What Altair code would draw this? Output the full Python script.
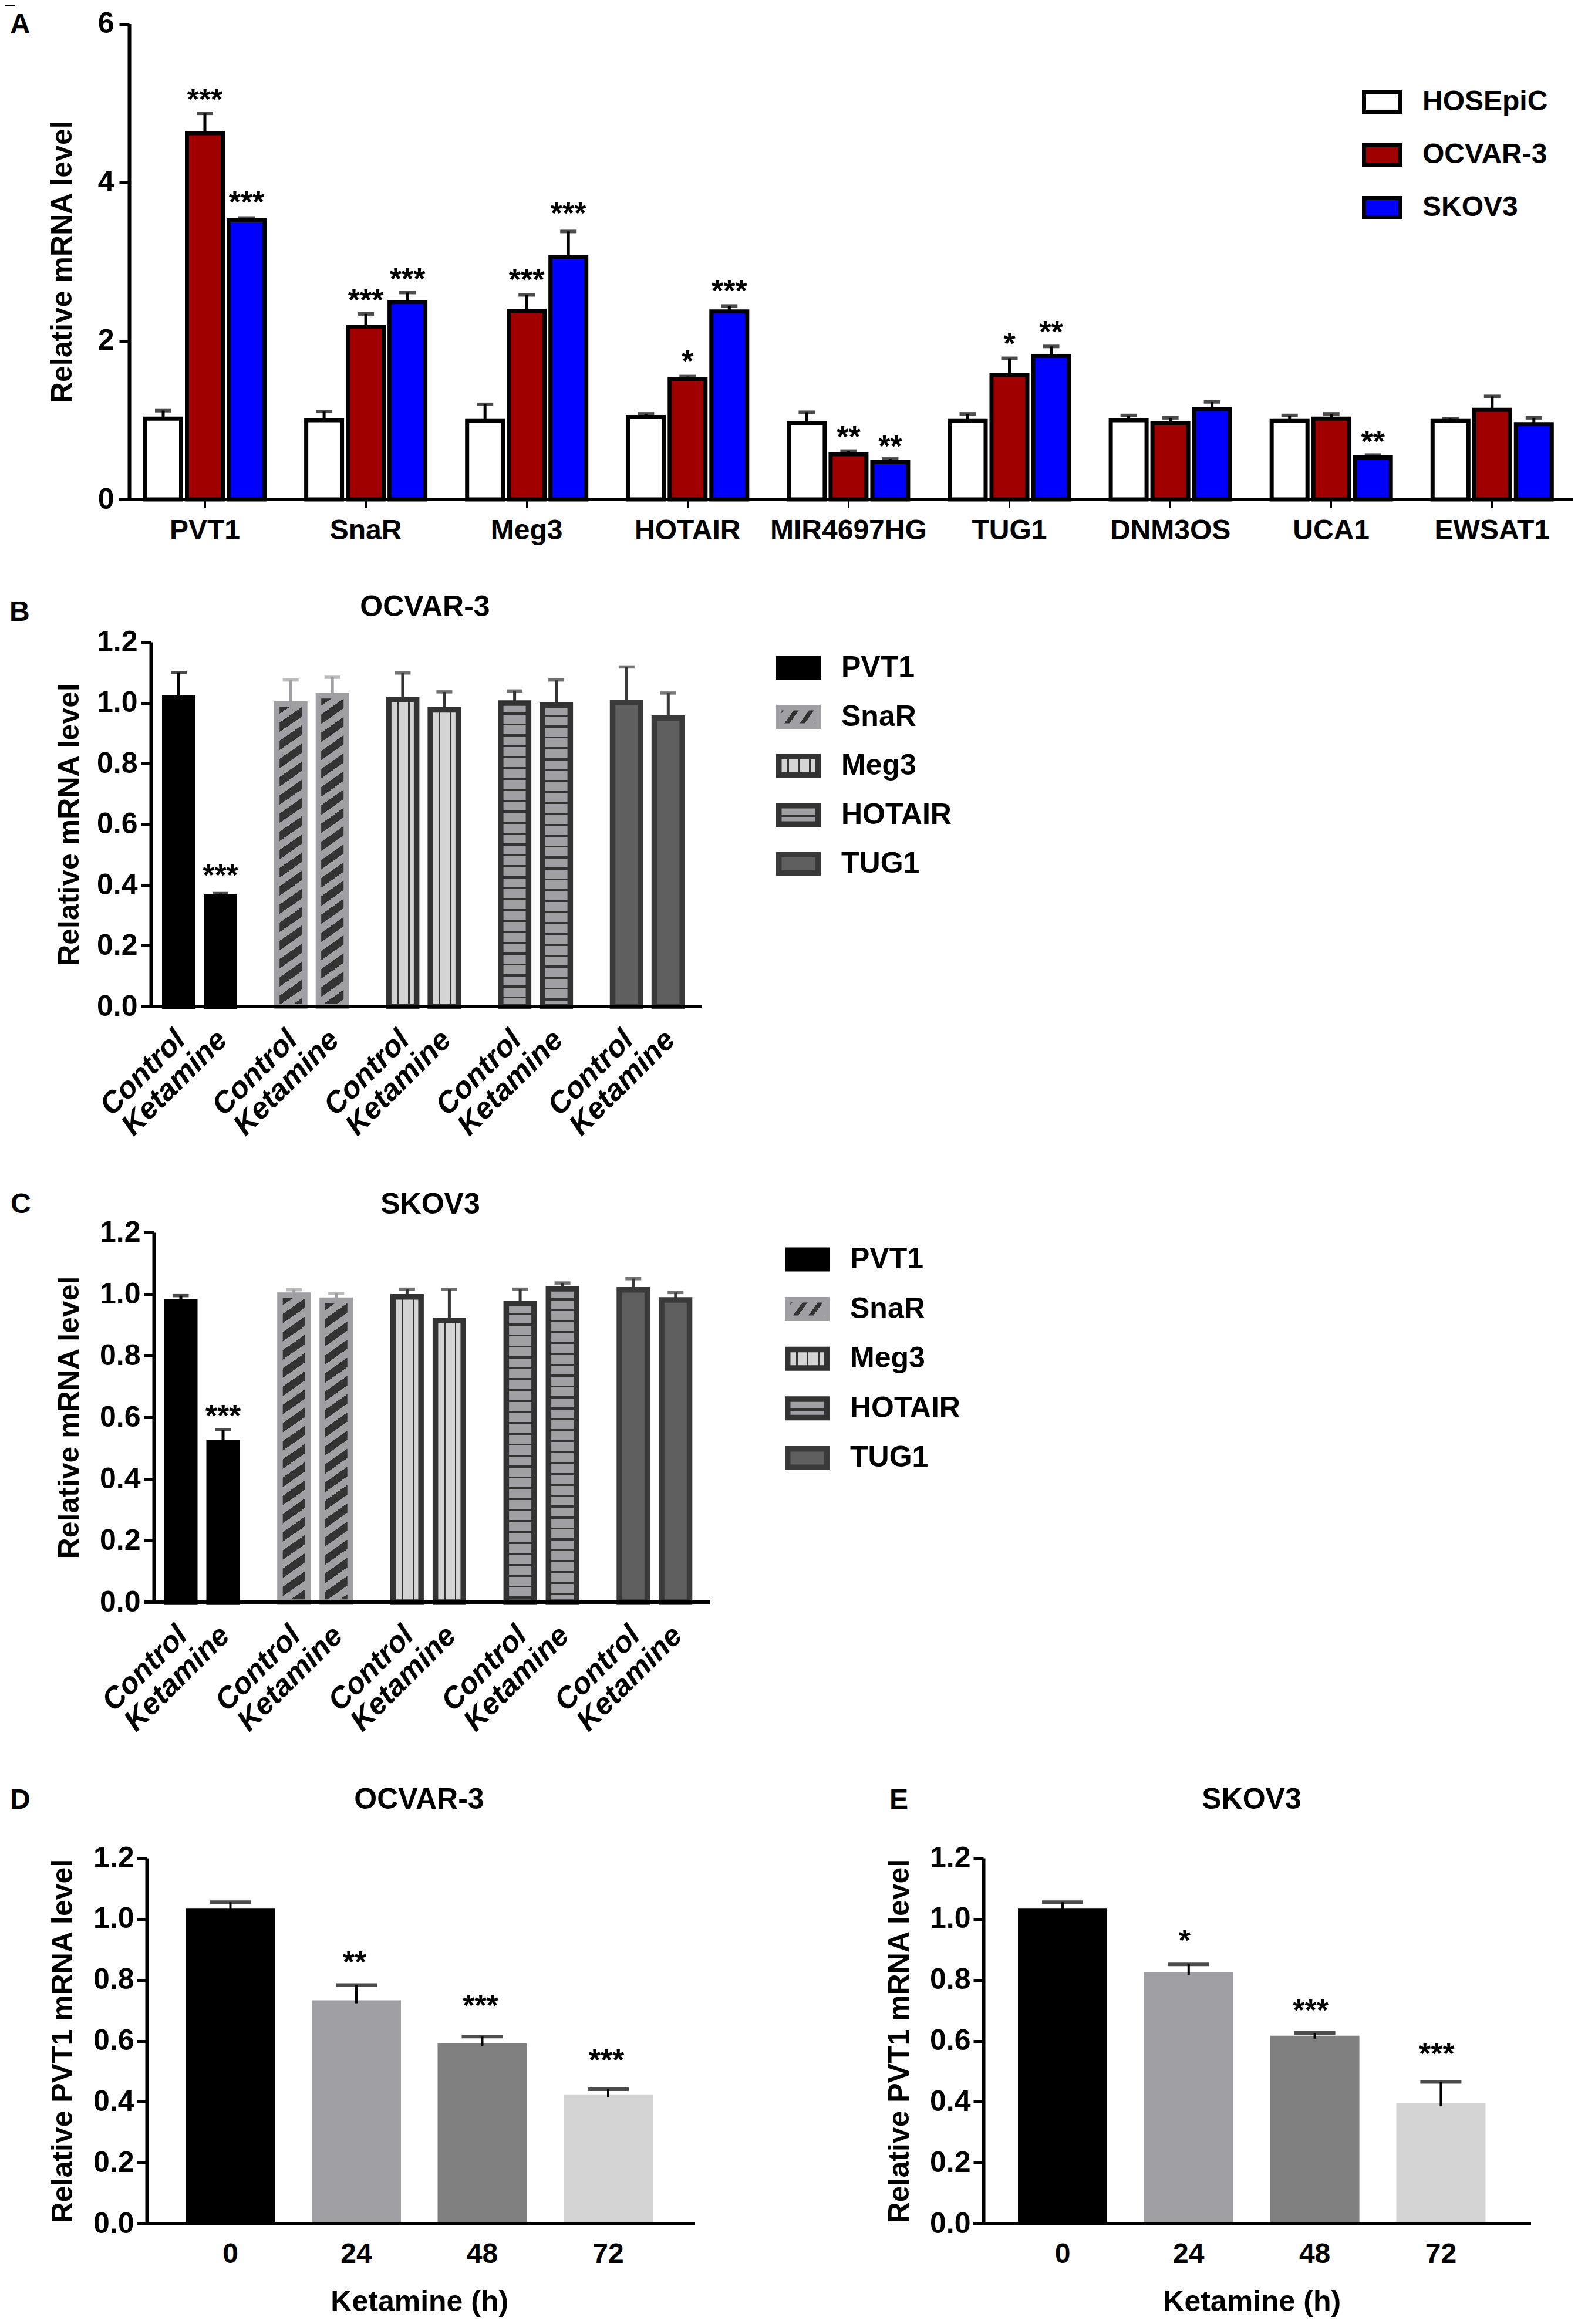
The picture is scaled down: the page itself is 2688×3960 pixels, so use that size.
import altair as alt
import pandas as pd

FONT = "Liberation Sans"
W, H = 2672, 3944

GENES_A = ["PVT1", "SnaR", "Meg3", "HOTAIR", "MIR4697HG", "TUG1", "DNM3OS", "UCA1", "EWSAT1"]
CELLS_A = ["HOSEpiC", "OCVAR-3", "SKOV3"]
COLORS_A = ["#ffffff", "#a00000", "#0000ff"]
VALUES_A = {
    "HOSEpiC": [1.02, 1.00, 0.99, 1.04, 0.96, 0.99, 1.00, 0.99, 0.99],
    "OCVAR-3": [4.62, 2.18, 2.38, 1.52, 0.57, 1.57, 0.96, 1.02, 1.13],
    "SKOV3": [3.52, 2.49, 3.06, 2.37, 0.47, 1.81, 1.14, 0.53, 0.95],
}
ERRORS_A = {
    "HOSEpiC": [1.12, 1.11, 1.20, 1.08, 1.10, 1.08, 1.06, 1.06, 1.02],
    "OCVAR-3": [4.87, 2.34, 2.58, 1.55, 0.61, 1.78, 1.03, 1.08, 1.30],
    "SKOV3": [3.55, 2.61, 3.38, 2.44, 0.51, 1.93, 1.23, 0.56, 1.03],
}
STARS_A = {
    "OCVAR-3": ["***", "***", "***", "*", "**", "*", "", "", ""],
    "SKOV3": ["***", "***", "***", "***", "**", "**", "", "**", ""],
}
STAR_Y_A = {
    "OCVAR-3": [5.12, 2.59, 2.85, 1.82, 0.865, 2.04, 0, 0, 0],
    "SKOV3": [3.83, 2.86, 3.69, 2.71, 0.75, 2.19, 0, 0.81, 0],
}

GENES_B = ["PVT1", "SnaR", "Meg3", "HOTAIR", "TUG1"]
TREATS = ["Control", "Ketamine"]
VALUES_B = [1.015, 0.36, 0.996, 1.023, 1.011, 0.977, 0.999, 0.992, 1.001, 0.95]
ERRORS_B = [1.10, 0.372, 1.075, 1.084, 1.098, 1.036, 1.039, 1.075, 1.118, 1.032]
STAR_Y_B = 0.452
VALUES_C = [0.975, 0.518, 0.996, 0.98, 0.991, 0.915, 0.97, 1.017, 1.014, 0.981]
ERRORS_C = [0.995, 0.56, 1.014, 1.002, 1.016, 1.015, 1.016, 1.036, 1.05, 1.005]
STAR_Y_C = 0.625

HOURS = ["0", "24", "48", "72"]
BAR_COLORS = ["#000000", "#a0a0a4", "#808080", "#d4d4d4"]
VALUES_D = [1.034, 0.733, 0.592, 0.424]
ERRORS_D = [1.055, 0.783, 0.614, 0.441]
STARS_D = ["", "**", "***", "***"]
STAR_Y_D = [0, 0.878, 0.736, 0.557]
VALUES_E = [1.034, 0.826, 0.617, 0.395]
ERRORS_E = [1.055, 0.851, 0.626, 0.465]
STARS_E = ["", "*", "***", "***"]
STAR_Y_E = [0, 0.95, 0.72, 0.577]

# gene: (pattern, base colour, ink colour, border colour)
STYLES = {
    "PVT1": ("solid", "#000000", None, "#000000"),
    "SnaR": ("diagonal", "#a0a0a4", "#333333", "#a0a0a4"),
    "Meg3": ("vertical", "#d4d4d4", "#333333", "#333333"),
    "HOTAIR": ("horizontal", "#a0a0a4", "#333333", "#333333"),
    "TUG1": ("solid", "#5f5f5f", None, "#3a3a3a"),
}


def px(v):
    return v - 8


def stripe_stops(length, period, phase, thick, base, ink):
    stops = [(0, base)]
    pos = phase
    while pos < length:
        end = min(pos + thick, length)
        stops += [(pos / length, base), (pos / length, ink), (end / length, ink), (end / length, base)]
        pos += period
    stops.append((1, base))
    return [alt.GradientStop(offset=o, color=c) for o, c in stops]


def pattern_fill(gene, w, h, slope=0.7, period=31, thick=16):
    kind, base, ink, _ = STYLES[gene]
    if kind == "solid":
        return base
    if kind == "horizontal":
        stops = stripe_stops(h, 18.6, 16, 3.5, base, ink)
        return alt.LinearGradient(gradient="linear", stops=stops, x1=0, y1=0, x2=0, y2=1)
    if kind == "vertical":
        stops = stripe_stops(w, 18.3, 14.7, 2.6, base, ink)
        return alt.LinearGradient(gradient="linear", stops=stops, x1=0, y1=0, x2=1, y2=0)
    # iso-lines rise to the right in pixel space, the gradient lives in bbox space
    ux, uy = slope / h, 1 / w
    k = (ux + uy) / (ux * ux + uy * uy)
    stops = stripe_stops(h + slope * w, period, 4, thick, base, ink)
    return alt.LinearGradient(gradient="linear", stops=stops, x1=0, y1=0, x2=k * ux, y2=k * uy)


def band_x(domain, first_center, step):
    start = first_center - step / 2
    return alt.Scale(type="band", domain=domain, range=[px(start), px(start + step * len(domain))],
                     paddingInner=0, paddingOuter=0)


def offset_x(domain, group_step, bar_step, bar_w):
    lead = (group_step - bar_step * len(domain)) / 2
    gap = 1 - bar_w / bar_step
    return alt.Scale(type="band", domain=domain, range=[lead, lead + bar_step * len(domain)],
                     paddingInner=gap, paddingOuter=gap / 2)


def y_enc(field, scale, axis=None):
    return alt.Y(field, type="quantitative", scale=scale, axis=axis)


def y_axis(title, axis_x, title_x, values, fmt, pad, size=50):
    return alt.Axis(title=title, orient="left", offset=-px(axis_x), values=values, format=fmt, grid=False,
                    domainColor="black", domainWidth=6, tickColor="black", tickWidth=5, tickSize=17,
                    labelFont=FONT, labelFontWeight="bold", labelFontSize=size, labelColor="black", labelPadding=pad,
                    titleFont=FONT, titleFontWeight="bold", titleFontSize=size, titleColor="black",
                    titleBaseline="middle", titleX=title_x - axis_x)


def baseline(scale, x0, x1, width=6):
    return alt.Chart(pd.DataFrame({"z": [0]})).mark_rule(color="black", strokeWidth=width).encode(
        x=alt.value(px(x0)), x2=alt.value(px(x1)), y=y_enc("z", scale))


def text_at(s, x, y, size=48, align="left", color="black"):
    return alt.Chart(pd.DataFrame({"t": [s]})).mark_text(
        font=FONT, fontWeight="bold", fontSize=size, align=align, baseline="middle", color=color
    ).encode(x=alt.value(px(x)), y=alt.value(px(y)), text="t:N")


def legend(names, fills, strokes, x0, x1, c0, step, box_h, sw, text_x, size=48):
    scale_y = alt.Scale(type="band", domain=names, range=[px(c0 - step / 2), px(c0 + step * (len(names) - 0.5))],
                        paddingInner=1 - (box_h - sw) / step, paddingOuter=(1 - (box_h - sw) / step) / 2)
    scale_x = alt.Scale(domain=["key"], range=[px(x0 + sw / 2), px(x1 - sw / 2)], paddingInner=0, paddingOuter=0)
    layers = []
    for name, fill, stroke in zip(names, fills, strokes):
        layers.append(alt.Chart(pd.DataFrame({"name": [name], "col": ["key"]})).mark_rect(
            fill=fill, stroke=stroke, strokeWidth=sw
        ).encode(x=alt.X("col:N", scale=scale_x, axis=None), y=alt.Y("name:N", scale=scale_y, axis=None)))
    layers.append(alt.Chart(pd.DataFrame({"name": names})).mark_text(
        font=FONT, fontWeight="bold", fontSize=size, align="left", baseline="middle", color="black"
    ).encode(x=alt.value(px(text_x)), y=alt.Y("name:N", scale=scale_y, axis=None), text="name:N"))
    return layers


def panel_a():
    rows = []
    for cell in CELLS_A:
        for i, gene in enumerate(GENES_A):
            row = {"gene": gene, "cell": cell, "value": VALUES_A[cell][i], "err": ERRORS_A[cell][i]}
            row["star"] = STARS_A[cell][i] if cell in STARS_A else ""
            row["star_y"] = STAR_Y_A[cell][i] if cell in STAR_Y_A else 0
            rows.append(row)
    df = pd.DataFrame(rows)
    sx = band_x(GENES_A, 349, 274.1)
    so = offset_x(CELLS_A, 274.1, 71, 61)
    sy = alt.Scale(domain=[0, 6], range=[px(851), px(40.5)], nice=False)
    xo = alt.XOffset("cell:N", scale=so)
    x_axis = alt.Axis(title=None, orient="bottom", offset=px(851) - H, domain=False, grid=False, labelAngle=0,
                      tickColor="black", tickWidth=3, tickSize=14, labelFont=FONT, labelFontWeight="bold",
                      labelFontSize=48, labelColor="black", labelPadding=15, labelLimit=500)
    x_plain = alt.X("gene:N", scale=sx, axis=None)
    bars = alt.Chart(df).mark_bar(stroke="black", strokeWidth=7).encode(
        x=alt.X("gene:N", scale=sx, axis=x_axis), xOffset=xo,
        y=y_enc("value", sy, y_axis("Relative mRNA level", 220, 106, [0, 2, 4, 6], "d", 9)),
        fill=alt.Fill("cell:N", scale=alt.Scale(domain=CELLS_A, range=COLORS_A), legend=None))
    stem = alt.Chart(df).mark_rule(color="black", strokeWidth=5).encode(
        x=x_plain, xOffset=xo, y=y_enc("value", sy), y2="err:Q")
    cap = alt.Chart(df).mark_tick(color="black", size=28, thickness=6).encode(
        x=x_plain, xOffset=xo, y=y_enc("err", sy))
    stars = alt.Chart(df[df["star"] != ""]).mark_text(
        font=FONT, fontWeight="bold", fontSize=52, dy=12, color="black").encode(
        x=x_plain, xOffset=xo, y=y_enc("star_y", sy), text="star:N")
    return [stem, cap, bars, stars, baseline(sy, 203, 2685)]


def panel_bc(values, errors, star_y, center, step, bar_step, axis_x, top, base, x1, title_x):
    rows = []
    for g, gene in enumerate(GENES_B):
        for t, treat in enumerate(TREATS):
            i = 2 * g + t
            rows.append({"gene": gene, "treat": treat, "value": values[i], "err": errors[i]})
    df = pd.DataFrame(rows)
    bar_w = 47.5
    per_unit = (base - top) / 1.2
    sx = band_x(GENES_B, center, step)
    so = offset_x(TREATS, step, bar_step, bar_w)
    sy = alt.Scale(domain=[0, 1.2], range=[px(base), px(top)], nice=False)
    x_plain = alt.X("gene:N", scale=sx, axis=None)
    xo = alt.XOffset("treat:N", scale=so)
    layers = []
    axis = y_axis("Relative mRNA level", axis_x, title_x, [0, 0.2, 0.4, 0.6, 0.8, 1.0, 1.2], ".1f", 6)
    for _, row in df.iterrows():
        style = STYLES[row["gene"]]
        one = pd.DataFrame([row])
        stem_color = style[3]
        layers.append(alt.Chart(one).mark_rule(color=stem_color, strokeWidth=5).encode(
            x=x_plain, xOffset=xo, y=y_enc("value", sy), y2="err:Q"))
        layers.append(alt.Chart(one).mark_tick(color=stem_color, size=27, thickness=5.5).encode(
            x=x_plain, xOffset=xo, y=y_enc("err", sy)))
        layers.append(alt.Chart(one).mark_bar(
            fill=pattern_fill(row["gene"], bar_w, row["value"] * per_unit), stroke=style[3], strokeWidth=9.5
        ).encode(x=x_plain, xOffset=xo, y=y_enc("value", sy, axis)))
        axis = None
    star = pd.DataFrame({"gene": ["PVT1"], "treat": ["Ketamine"], "star": ["***"], "star_y": [star_y]})
    layers.append(alt.Chart(star).mark_text(font=FONT, fontWeight="bold", fontSize=52, dy=12, color="black").encode(
        x=x_plain, xOffset=xo, y=y_enc("star_y", sy), text="star:N"))
    layers.append(alt.Chart(df).mark_text(
        font=FONT, fontWeight="bold", fontStyle="italic", fontSize=51, angle=315, align="right", baseline="middle",
        dx=5, color="black"
    ).encode(x=x_plain, xOffset=xo, y=alt.value(px(base + 53)), text="treat:N"))
    layers.append(baseline(sy, axis_x - 17, x1))
    return layers


def panel_de(values, errors, stars, star_y, center, step, axis_x, top, base, x1, title_x, star_dx):
    df = pd.DataFrame({"hour": HOURS, "value": values, "err": errors, "star": stars, "star_y": star_y})
    df["low"] = df["value"] - 0.01
    sx = alt.Scale(type="band", domain=HOURS, range=[px(center - step / 2), px(center + step * 3.5)],
                   paddingInner=1 - 152 / step, paddingOuter=(1 - 152 / step) / 2)
    sy = alt.Scale(domain=[0, 1.2], range=[px(base), px(top)], nice=False)
    x_axis = alt.Axis(title="Ketamine (h)", orient="bottom", offset=px(base) - H, domain=False, grid=False, ticks=False,
                      labelAngle=0, labelFont=FONT, labelFontWeight="bold", labelFontSize=48, labelColor="black",
                      labelPadding=28, titleFont=FONT, titleFontWeight="bold", titleFontSize=50, titleColor="black",
                      titleBaseline="middle", titleY=133)
    x_plain = alt.X("hour:N", scale=sx, axis=None)
    stem = alt.Chart(df).mark_rule(color="black", strokeWidth=4).encode(x=x_plain, y=y_enc("low", sy), y2="err:Q")
    cap = alt.Chart(df).mark_tick(color="black", size=70, thickness=6).encode(x=x_plain, y=y_enc("err", sy))
    bars = alt.Chart(df).mark_bar().encode(
        x=alt.X("hour:N", scale=sx, axis=x_axis),
        y=y_enc("value", sy, y_axis("Relative PVT1 mRNA level", axis_x, title_x,
                                    [0, 0.2, 0.4, 0.6, 0.8, 1.0, 1.2], ".1f", 5)),
        fill=alt.Fill("hour:N", scale=alt.Scale(domain=HOURS, range=BAR_COLORS), legend=None))
    txt = alt.Chart(df[df["star"] != ""]).mark_text(
        font=FONT, fontWeight="bold", fontSize=52, dy=12, dx=star_dx, color="black").encode(
        x=x_plain, y=y_enc("star_y", sy), text="star:N")
    return [bars, stem, cap, txt, baseline(sy, axis_x - 17, x1)]


def gene_legend(x0, c0, step, text_x):
    w, h, sw = 76, 41, 9.5
    fills = []
    for gene in GENES_B:
        fills.append(pattern_fill(gene, w - sw, h - sw, slope=1.4, period=36, thick=12))
    strokes = [STYLES[g][3] for g in GENES_B]
    return legend(GENES_B, fills, strokes, x0, x0 + w, c0, step, h, sw, text_x, size=50)


# the stray dash in the top-left corner of the figure
corner_dash = alt.Chart(pd.DataFrame({"z": [0]})).mark_rule(color="black", strokeWidth=2).encode(
    x=alt.value(px(8)), x2=alt.value(px(25)), y=alt.value(px(9)))

units = (
    panel_a()
    + legend(CELLS_A, COLORS_A, ["black"] * 3, 2320, 2389, 174, 90, 40, 7, 2423)
    + panel_bc(VALUES_B, ERRORS_B, STAR_Y_B, 340, 190.7, 71, 257, 1094, 1715, 1195, 118)
    + gene_legend(1322, 1138, 83.5, 1433)
    + panel_bc(VALUES_C, ERRORS_C, STAR_Y_C, 344, 192.7, 72, 262, 2100, 2730, 1209, 118)
    + gene_legend(1337, 2146, 84.6, 1448)
    + panel_de(VALUES_D, ERRORS_D, STARS_D, STAR_Y_D, 392.5, 214.5, 250, 3166, 3789, 1184, 107, -3)
    + panel_de(VALUES_E, ERRORS_E, STARS_E, STAR_Y_E, 1810, 214.8, 1675, 3166, 3789, 2608, 1532, -7)
    + [
        corner_dash,
        text_at("A", 17, 43),
        text_at("B", 16, 1044),
        text_at("C", 18, 2053),
        text_at("D", 17, 3068),
        text_at("E", 1515, 3068),
        text_at("OCVAR-3", 724, 1035, size=50, align="center"),
        text_at("SKOV3", 733, 2053, size=50, align="center"),
        text_at("OCVAR-3", 714, 3067, size=50, align="center"),
        text_at("SKOV3", 2132, 3067, size=50, align="center"),
    ]
)

chart = alt.layer(*units).resolve_scale(
    x="independent", y="independent", xOffset="independent", fill="independent"
).resolve_axis(
    x="independent", y="independent"
).properties(
    width=W, height=H, padding=0, autosize=alt.AutoSizeParams(type="none")
).configure_view(stroke=None)

chart.save("out.html", embed_options={"renderer": "svg", "actions": False})
